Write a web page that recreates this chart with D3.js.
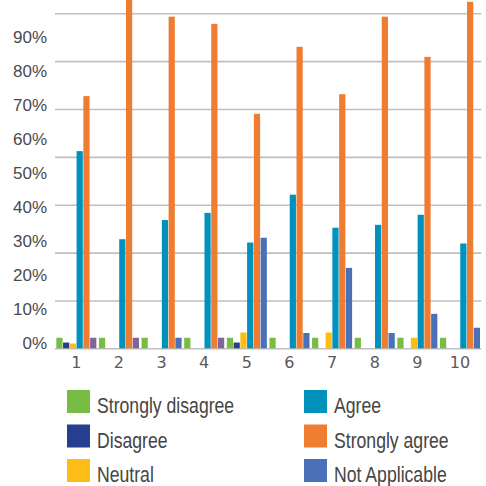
<!DOCTYPE html>
<meta charset="utf-8">
<style>
    body { margin: 0; background: #fff; }
    .grid line { stroke: #bfbfbf; stroke-width: 1.6px; }
    .ylab text { font-family: "Liberation Sans", Arial, sans-serif; font-size: 17px; fill: #4a4a4a; }
    .xlab text { font-family: "DejaVu Sans", sans-serif; font-size: 16px; fill: #5a5a5a; }
    .legend text { font-family: "Liberation Sans", Arial, sans-serif; font-size: 21.5px; fill: #454545; }
</style>
<body>
<script src="https://cdn.jsdelivr.net/npm/d3@7"></script>
<script>

var groups = ["1", "2", "3", "4", "5", "6", "7", "8", "9", "10"];
var seriesNames = ["Strongly disagree", "Disagree", "Neutral", "Agree", "Strongly agree", "Not Applicable"];

// percent of responses per question
var stronglyDisagree = [2.2, 2.2, 2.2, 2.2, 2.2, 2.2, 2.2, 2.2, 2.2, 2.2];
var disagree         = [1.2, 0,   0,   0,   1.2, 0,   0,   0,   0,   0];
var neutral          = [1.0, 0,   0,   0,   3.3, 0,   3.3, 0,   2.2, 0];
var agree            = [41.2, 22.8, 26.8, 28.3, 22.1, 32.1, 25.2, 25.8, 27.9, 21.9];
var stronglyAgree    = [52.7, 72.8, 69.3, 67.8, 49.0, 63.0, 53.1, 69.3, 60.9, 72.4];
var notApplicable    = [0,   0,   2.2, 0,   23.1, 3.2, 16.8, 3.2, 7.2, 4.3];
// same slot as Not Applicable, drawn in another shade in the source (not in legend)
var otherNA          = [2.2, 2.2, 0,   2.2, 0,   0,   0,   0,   0,   0];

var gridValues = [0, 10, 20, 30, 40, 50, 60, 70];
var yTickLabels = ["0%", "10%", "20%", "30%", "40%", "50%", "60%", "70%", "80%", "90%"];

var colors = ["#78bd43", "#263e8e", "#fdbd16", "#0092bc", "#ef7d31", "#4a71b8"];
var otherColor = "#7d6598";

var width = 486, height = 486;
var svg = d3.select("body").append("svg")
    .attr("width", width)
    .attr("height", height);

var x0 = d3.scaleBand()
    .domain(groups)
    .range([55, 481.3]);

var x1 = d3.scaleBand()
    .domain(d3.range(6))
    .range([1.3, x0.bandwidth() - 1.3])
    .paddingInner(0.08);

var y = d3.scaleLinear()
    .domain([0, 70])
    .range([348.3, 13.3]);

// the printed labels don't follow the gridlines in the source
var yLabel = d3.scalePoint()
    .domain(yTickLabels)
    .range([348, 42]);

// gridlines
svg.append("g")
    .attr("class", "grid")
    .attr("transform", "translate(55,0)")
    .call(d3.axisLeft(y).tickValues(gridValues).tickSize(-426.3).tickFormat(""))
    .call(function(g) { g.select(".domain").remove(); });

// y labels
svg.append("g")
    .attr("class", "ylab")
    .attr("transform", "translate(47,0)")
    .call(d3.axisLeft(yLabel).tickSize(0).tickPadding(0))
    .call(function(g) {
        g.select(".domain").remove();
        g.selectAll("text").attr("dy", 0).attr("x", 0);
    });

var series = [stronglyDisagree, disagree, neutral, agree, stronglyAgree, notApplicable];

var rows = [];
series.forEach(function(vals, s) {
    vals.forEach(function(v, i) {
        rows.push({ g: groups[i], slot: s, value: v, color: colors[s] });
    });
});
otherNA.forEach(function(v, i) {
    rows.push({ g: groups[i], slot: 5, value: v, color: otherColor });
});

svg.append("g")
  .selectAll("rect")
    .data(rows.filter(function(d) { return d.value > 0; }))
  .enter().append("rect")
    .attr("x", function(d) { return x0(d.g) + x1(d.slot); })
    .attr("width", x1.bandwidth())
    .attr("y", function(d) { return y(d.value); })
    .attr("height", function(d) { return y(0) - y(d.value); })
    .style("fill", function(d) { return d.color; });

// x labels
svg.append("g")
    .attr("class", "xlab")
    .attr("transform", "translate(0,348.3)")
    .call(d3.axisBottom(x0).tickSize(0).tickPadding(8))
    .call(function(g) { g.select(".domain").remove(); });

// legend
var legend = svg.append("g").attr("class", "legend");
var item = legend.selectAll("g")
    .data(seriesNames)
  .enter().append("g")
    .attr("transform", function(d, i) {
        var col = Math.floor(i / 3), row = i % 3;
        return "translate(" + (67 + col * 237) + "," + (390 + row * 34.5) + ")";
    });
item.append("rect")
    .attr("width", 23)
    .attr("height", 23)
    .style("fill", function(d, i) { return colors[i]; });
// narrow face isn't available, so squeeze the regular one
item.append("text")
    .attr("transform", "translate(30,23) scale(0.82,1)")
    .text(function(d) { return d; });

</script>
</body>
